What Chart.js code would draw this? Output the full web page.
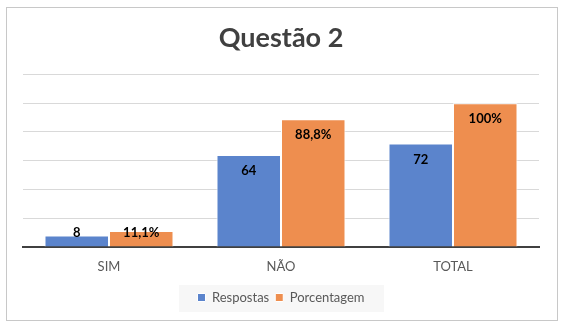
<!DOCTYPE html>
<html>
<head>
<meta charset="utf-8">
<script src="https://cdn.jsdelivr.net/npm/chart.js@4"></script>
<style>
  html, body { margin: 0; padding: 0; background: #fff; }
  #wrap { width: 578px; height: 329px; }
</style>
</head>
<body>
<div id="wrap"><canvas id="grafico" width="578" height="329"></canvas></div>
<script>
// ===================== DADOS =====================
const categorias = ["SIM", "NÃO", "TOTAL"];
const respostas = [8, 64, 72];
const porcentagem = [11.1, 88.8, 100];
const rotulosPorcentagem = ["11,1%", "88,8%", "100%"];

const FONTE = "Lato, 'Open Sans', sans-serif";
const AZUL = "#5B84CC";
const LARANJA = "#EE8E4F";

// ===================== MOLDURA E FUNDO DA LEGENDA =====================
const moldura = {
  id: "moldura",
  beforeDraw(chart) {
    const ctx = chart.ctx;
    ctx.save();
    ctx.fillStyle = "#fff";
    ctx.fillRect(0, 0, chart.width, chart.height);
    ctx.strokeStyle = "#C8C8C8";
    ctx.lineWidth = 1;
    ctx.strokeRect(6.5, 7.5, 551, 313);
    ctx.fillStyle = "#F7F7F7";
    ctx.fillRect(179, 285, 205, 27);
    ctx.restore();
  },
};

// ===================== RÓTULOS DAS BARRAS =====================
const rotulos = {
  id: "rotulos",
  afterDatasetsDraw(chart) {
    const ctx = chart.ctx;
    const base = chart.chartArea.bottom;
    ctx.save();
    ctx.font = "bold 13px " + FONTE;
    ctx.fillStyle = "#000";
    ctx.textAlign = "center";
    ctx.textBaseline = "middle";
    chart.data.datasets.forEach((ds, i) => {
      chart.getDatasetMeta(i).data.forEach((bar, j) => {
        const texto = i === 0 ? String(ds.data[j]) : rotulosPorcentagem[j];
        const y = Math.min(bar.y + 16, base - 14);
        ctx.fillText(texto, bar.x, y);
      });
    });
    ctx.restore();
  },
};

// ===================== CHART =====================
const ctx = document.getElementById("grafico").getContext("2d");
new Chart(ctx, {
  type: "bar",
  data: {
    labels: categorias,
    datasets: [
      {
        label: "Respostas",
        data: respostas,
        backgroundColor: AZUL,
        borderColor: "#FFFFFF",
        borderWidth: 1,
      },
      {
        label: "Porcentagem",
        data: porcentagem,
        backgroundColor: LARANJA,
        borderColor: "#FFFFFF",
        borderWidth: 1,
      },
    ],
  },
  options: {
    responsive: false,
    animation: false,
    devicePixelRatio: 1,
    layout: { padding: { left: 23, right: 39, top: 10, bottom: 15 } },
    datasets: { bar: { barPercentage: 1, categoryPercentage: 0.75 } },
    plugins: {
      title: {
        display: true,
        text: "Questão 2",
        color: "#404040",
        font: { family: FONTE, size: 27, weight: "bold" },
        padding: { top: 12, bottom: 20 },
      },
      legend: {
        position: "bottom",
        labels: {
          color: "#595959",
          font: { family: FONTE, size: 13 },
          boxWidth: 8,
          boxHeight: 8,
          padding: 6,
        },
      },
      tooltip: { enabled: false },
    },
    scales: {
      x: {
        grid: { display: false, drawTicks: false },
        border: { color: "#404040", width: 2 },
        ticks: { color: "#595959", font: { family: FONTE, size: 13 }, padding: 12 },
        afterFit: (escala) => { escala.height = 38; },
      },
      y: {
        min: 0,
        max: 120,
        ticks: { display: false, stepSize: 20 },
        grid: { color: "#D9D9D9", drawTicks: false },
        border: { display: false },
      },
    },
  },
  plugins: [moldura, rotulos],
});
</script>
</body>
</html>
